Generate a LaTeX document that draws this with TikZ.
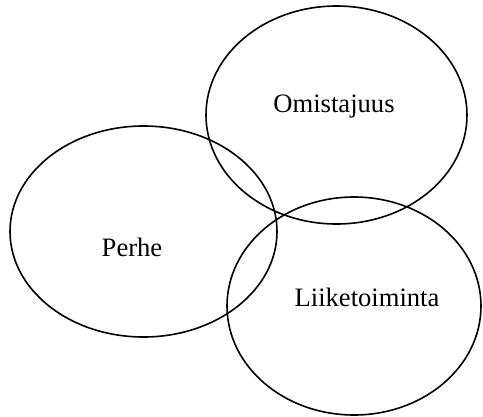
\documentclass[tikz,border=0pt]{standalone}
\usepackage{fontspec}
\setmainfont{Liberation Serif}
\begin{document}
\begin{tikzpicture}[x=1pt,y=-1pt,line width=1.6pt]
                  \useasboundingbox (0,0) rectangle (483,416);

                  % Draw the three circles
                  \draw (336.5,115) ellipse [x radius=130.5, y radius=109];
                  \draw (143.5,231.5) ellipse [x radius=133.5, y radius=105.5];
                  \draw (354,306) ellipse [x radius=127, y radius=109];

                  % Write the names
                  \node[font=\fontsize{26.6}{30}\selectfont] (omistajuus) at (334,107) {Omistajuus};
                  \node[font=\fontsize{26.6}{30}\selectfont] (perhe) at (132,247) {Perhe};
                  \node[font=\fontsize{26.6}{30}\selectfont] (liiketoiminta) at (367,297) {Liiketoiminta};

            \end{tikzpicture}
\end{document}
